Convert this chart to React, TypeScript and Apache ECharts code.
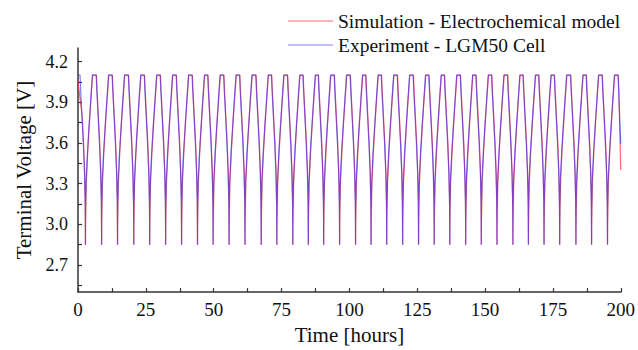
import React, { useEffect, useRef } from "react";
import * as echarts from "echarts";

// Trough times (hours) of each charge/discharge cycle
const troughTimes = [
  2.75, 8.7, 14.57, 20.55, 26.42, 32.29, 38.17, 44.04, 49.8, 55.67, 61.54, 67.52,
  73.28, 79.16, 84.88, 90.53, 96.4, 102.28, 108.0, 113.76, 119.63, 125.5, 131.27,
  137.0, 142.86, 148.62, 154.39, 160.26, 165.98, 171.74, 177.5, 183.49, 189.25, 195.12,
];

// Cycle shape around each trough: [hours from trough, voltage]
const blueDischarge = [[-2.0, 4.1], [-1.8, 4.0], [-1.3, 3.8], [-0.8, 3.6], [-0.35, 3.38], [-0.08, 3.15], [0, 2.85]];
const blueCharge = [[0.02, 3.12], [0.25, 3.33], [0.7, 3.52], [1.3, 3.72], [1.95, 3.92], [2.55, 4.1]];
const redDischarge = [[-1.9, 4.1], [-1.7, 4.0], [-1.2, 3.8], [-0.7, 3.6], [-0.3, 3.38], [-0.1, 3.2], [-0.02, 3.0], [0, 2.85]];
const redCharge = [[0.03, 3.0], [0.3, 3.3], [0.8, 3.52], [1.4, 3.73], [2.05, 3.93], [2.65, 4.1]];

const blueStart = [[0, 4.1], [0.75, 4.1]];
const blueEnd = [[199.0, 4.1], [199.2, 4.0], [200, 3.59]];
const redStart = [[0, 4.05], [0.3, 4.0]];
const redEnd = [[199.1, 4.1], [199.3, 3.98], [200, 3.4]];

const yLabels = [2.7, 3.0, 3.3, 3.6, 3.9, 4.2];
const yTicks = [2.55, 2.7, 2.85, 3.0, 3.15, 3.3, 3.45, 3.6, 3.75, 3.9, 4.05, 4.2];
const xLabels = [0, 25, 50, 75, 100, 125, 150, 175, 200];
const xTicks = [0, 12.5, 25, 37.5, 50, 62.5, 75, 87.5, 100, 112.5, 125, 137.5, 150, 162.5, 175, 187.5, 200];

function buildSeries(start: number[][], pre: number[][], post: number[][], end: number[][]) {
  const pts: number[][] = start.map((p) => [p[0], p[1]]);
  const s = start[start.length - 1];
  const endT = end[0][0];
  troughTimes.forEach((t0, i) => {
    pre.forEach(([dt, v]) => {
      const t = t0 + dt;
      if (i === 0 && (t <= s[0] || v >= s[1])) return;
      pts.push([+t.toFixed(3), v]);
    });
    post.forEach(([dt, v]) => {
      const t = t0 + dt;
      if (t < endT) pts.push([+t.toFixed(3), v]);
    });
  });
  end.forEach((p) => pts.push([p[0], p[1]]));
  return pts;
}

const FONT = "'Liberation Serif', 'Times New Roman', serif";

export default function App() {
  const ref = useRef<HTMLDivElement>(null);
  useEffect(() => {
    if (!ref.current) return;
    const chart = echarts.init(ref.current, undefined, { renderer: "svg" });
    const red = buildSeries(redStart, redDischarge, redCharge, redEnd);
    const blue = buildSeries(blueStart, blueDischarge, blueCharge, blueEnd);
    const axisLine = { show: true, lineStyle: { color: "#333", width: 1.5 } };
    chart.setOption({
      animation: false,
      backgroundColor: "#fff",
      textStyle: { fontFamily: FONT, color: "#111" },
      grid: { left: 78, right: 15, top: 48, bottom: 54, containLabel: false },
      legend: {
        orient: "vertical",
        left: 283,
        top: 6,
        itemWidth: 45,
        itemHeight: 1,
        itemGap: 4,
        icon: "rect",
        textStyle: { fontFamily: FONT, fontSize: 19.5, color: "#111" },
        data: ["Simulation - Electrochemical model", "Experiment - LGM50 Cell"],
      },
      xAxis: {
        type: "value",
        min: 0,
        max: 200,
        name: "Time [hours]",
        nameLocation: "middle",
        nameGap: 28,
        nameTextStyle: { fontFamily: FONT, fontSize: 21, color: "#111" },
        axisLine,
        axisTick: { show: true, inside: true, length: 4, lineStyle: { color: "#333", width: 1.2 }, customValues: xTicks },
        axisLabel: { fontFamily: FONT, fontSize: 19, color: "#111", margin: 8, customValues: xLabels },
        splitLine: { show: false },
      },
      yAxis: {
        type: "value",
        min: 2.5,
        max: 4.3,
        name: "Terminal Voltage [V]",
        nameLocation: "middle",
        nameGap: 44,
        nameTextStyle: { fontFamily: FONT, fontSize: 21, color: "#111" },
        axisLine,
        axisTick: { show: true, inside: true, length: 4, lineStyle: { color: "#333", width: 1.2 }, customValues: yTicks },
        axisLabel: {
          fontFamily: FONT,
          fontSize: 18,
          color: "#111",
          margin: 10,
          customValues: yLabels,
          formatter: (v: number) => v.toFixed(1),
        },
        splitLine: { show: false },
      },
      series: [
        {
          name: "Simulation - Electrochemical model",
          type: "line",
          data: red,
          showSymbol: false,
          symbol: "none",
          color: "rgba(255,40,40,0.7)",
          lineStyle: { width: 1.2, color: "rgba(255,40,40,0.7)" },
        },
        {
          name: "Experiment - LGM50 Cell",
          type: "line",
          data: blue,
          showSymbol: false,
          symbol: "none",
          color: "rgba(40,40,255,0.6)",
          lineStyle: { width: 1.2, color: "rgba(40,40,255,0.6)" },
        },
      ],
    });
    return () => chart.dispose();
  }, []);
  return <div ref={ref} style={{ position: "fixed", left: 0, top: 0, width: 638, height: 350 }} />;
}
